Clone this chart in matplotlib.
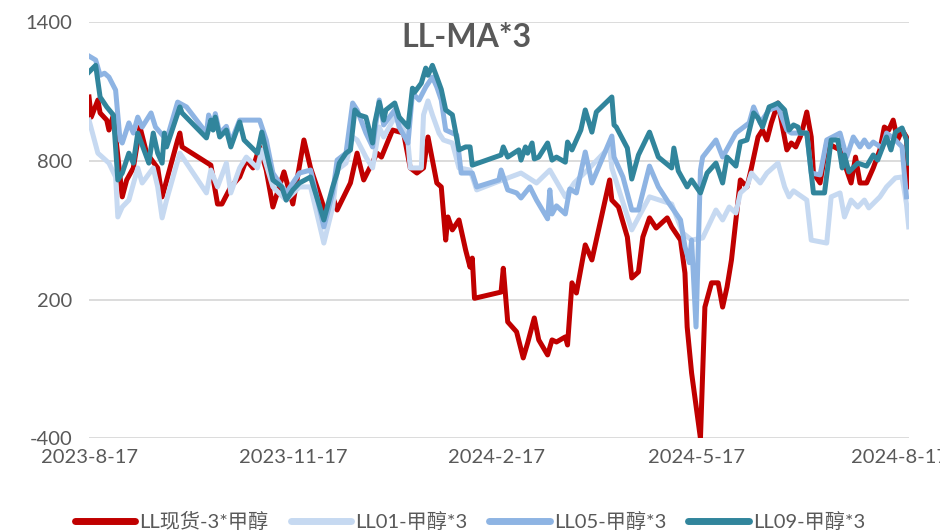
import numpy as np
import pandas as pd
import matplotlib
matplotlib.use("Agg")
import matplotlib.pyplot as plt
import matplotlib.dates as mdates

plt.rcParams['font.family'] = ['Lato', 'Noto Sans CJK SC', 'DejaVu Sans']
plt.rcParams['axes.unicode_minus'] = False

# x values are day offsets from 2023-8-17
start = pd.Timestamp('2023-08-17')

spot_days = [0, 1, 4, 5, 8, 9, 11, 15, 17, 20, 23, 26, 31, 33, 40, 41, 42, 55, 58, 60,
             64, 68, 71, 74, 77, 80, 83, 88, 92, 97, 100, 107, 110, 112, 118, 121, 124,
             130, 132, 137, 142, 145, 148, 151, 153, 157, 159, 161, 162, 164, 167, 170,
             172, 173, 174, 186, 187, 189, 193, 196, 198, 201, 203, 207, 209, 211, 215,
             216, 218, 220, 224, 227, 235, 236, 239, 243, 245, 248, 250, 253, 256, 261,
             263, 267, 269, 270, 272, 276, 278, 281, 284, 286, 288, 290, 292, 294, 297,
             299, 302, 304, 306, 308, 311, 315, 317, 319, 321, 322, 324, 326, 327, 330,
             333, 339, 342, 344, 346, 348, 351, 354, 357, 359, 361, 363, 365, 367, 369, 370]
spot_vals = [1077, 990, 1064, 1008, 977, 934, 999, 645, 718, 770, 947, 834, 770, 645, 891,
             921, 861, 782, 614, 614, 688, 731, 804, 770, 861, 761, 601, 753, 614, 891, 770,
             571, 645, 588, 705, 834, 718, 834, 817, 934, 921, 770, 748, 770, 904, 705, 688,
             458, 558, 502, 545, 415, 341, 380, 206, 233, 336, 104, 61, -52, 13, 121, 26,
             -39, 26, 17, 39, 4, 273, 229, 437, 372, 718, 631, 601, 471, 294, 320, 471, 554,
             510, 554, 515, 458, 315, 82, -117, -400, 168, 273, 273, 168, 255, 372, 545, 718,
             688, 770, 904, 934, 891, 965, 1051, 848, 878, 861, 904, 934, 1012, 904, 748,
             705, 878, 848, 761, 705, 817, 705, 705, 770, 848, 947, 934, 977, 891, 934, 904,
             688]

ll01_days = [0, 4, 6, 9, 12, 13, 15, 18, 22, 24, 29, 31, 33, 35, 41, 53, 55, 58, 62, 64,
             68, 71, 76, 78, 83, 89, 95, 100, 106, 110, 112, 116, 119, 121, 125, 128, 131,
             133, 138, 142, 144, 145, 150, 151, 153, 155, 158, 160, 164, 167, 172, 175, 183,
             195, 202, 208, 215, 219, 225, 235, 236, 245, 253, 263, 268, 272, 277, 283, 286,
             289, 292, 294, 297, 299, 303, 306, 311, 314, 316, 318, 324, 326, 333, 335, 339,
             341, 344, 347, 350, 352, 357, 360, 364, 367, 369, 370]
ll01_vals = [977, 834, 817, 791, 731, 558, 601, 631, 770, 705, 770, 688, 554, 631, 834, 662,
             761, 688, 791, 662, 770, 817, 770, 848, 688, 631, 688, 688, 445, 601, 761, 791,
             904, 891, 817, 770, 947, 904, 990, 934, 878, 770, 770, 1000, 1060, 1000, 920,
             891, 878, 770, 761, 675, 705, 748, 705, 761, 645, 705, 761, 861, 770, 502, 645,
             614, 489, 458, 467, 588, 545, 601, 575, 662, 688, 748, 705, 748, 791, 688, 645,
             671, 631, 458, 445, 645, 662, 558, 631, 601, 631, 597, 645, 688, 727, 731, 614,
             515]

ll05_days = [0, 3, 5, 7, 9, 12, 14, 15, 18, 20, 22, 24, 28, 30, 32, 35, 40, 44, 53, 54,
             56, 57, 59, 62, 64, 68, 77, 80, 83, 89, 95, 100, 106, 110, 112, 116, 119, 121,
             125, 128, 131, 133, 138, 140, 144, 146, 149, 152, 155, 157, 159, 161, 166, 168,
             173, 175, 185, 186, 189, 193, 195, 199, 202, 207, 208, 209, 211, 215, 217, 220,
             224, 227, 236, 237, 241, 245, 248, 253, 257, 262, 267, 269, 271, 272, 274, 276,
             277, 283, 286, 292, 298, 300, 303, 307, 311, 315, 317, 324, 326, 330, 333, 339,
             342, 345, 348, 350, 352, 354, 358, 360, 364, 367, 368, 369]
ll05_vals = [1254, 1237, 1171, 1180, 1163, 1107, 891, 878, 965, 921, 990, 947, 1008, 947,
             925, 891, 1055, 1034, 921, 999, 950, 1005, 920, 950, 880, 977, 977, 891, 748,
             662, 748, 761, 515, 662, 804, 834, 1051, 1021, 921, 861, 1064, 956, 1021, 947,
             878, 1094, 1064, 1120, 1163, 1120, 1064, 934, 912, 748, 748, 688, 718, 761, 675,
             662, 640, 688, 631, 550, 675, 571, 606, 571, 679, 662, 839, 705, 908, 817, 731,
             588, 588, 778, 688, 614, 545, 430, 360, 458, 82, 761, 817, 891, 817, 921, 965,
             1034, 965, 1021, 1034, 934, 921, 921, 748, 740, 891, 921, 817, 904, 861, 891,
             861, 882, 856, 921, 891, 861, 748, 645]

ll09_days = [0, 3, 5, 8, 11, 13, 15, 18, 20, 22, 27, 29, 31, 33, 34, 35, 41, 42, 53, 55,
             56, 57, 59, 62, 64, 68, 70, 76, 78, 83, 87, 89, 92, 95, 100, 106, 110, 112, 113,
             116, 118, 120, 122, 125, 128, 129, 131, 133, 134, 138, 140, 144, 146, 147, 150,
             152, 153, 155, 157, 159, 161, 164, 167, 170, 172, 173, 186, 187, 189, 194, 195,
             197, 198, 200, 201, 203, 207, 209, 211, 215, 216, 218, 222, 224, 227, 229, 236,
             237, 238, 243, 245, 248, 253, 257, 263, 264, 266, 270, 272, 276, 279, 283, 286,
             288, 292, 294, 297, 300, 302, 304, 307, 309, 311, 314, 316, 318, 320, 321, 324,
             327, 332, 335, 338, 340, 341, 343, 347, 351, 354, 356, 360, 362, 364, 367, 369,
             370]
ll09_vals = [1185, 1214, 1077, 1034, 999, 718, 748, 834, 791, 921, 791, 921, 834, 791, 921,
             861, 1034, 1008, 900, 977, 934, 990, 904, 934, 861, 969, 891, 834, 925, 718,
             688, 631, 675, 705, 731, 545, 688, 748, 791, 834, 848, 1021, 999, 990, 878, 965,
             1055, 977, 1021, 1051, 990, 947, 1115, 1098, 1137, 1202, 1171, 1214, 1163, 1110,
             1021, 1000, 848, 861, 861, 782, 826, 861, 817, 848, 804, 861, 834, 878, 809, 817,
             878, 804, 817, 795, 882, 848, 934, 1021, 925, 1012, 1077, 956, 947, 856, 722,
             826, 925, 817, 770, 856, 757, 688, 718, 662, 748, 791, 705, 817, 778, 882, 891,
             1008, 986, 947, 1034, 1042, 1051, 1021, 934, 956, 947, 921, 921, 662, 662, 891,
             891, 770, 826, 753, 791, 778, 826, 804, 904, 848, 925, 943, 891, 791]

series = [
    ('LL现货-3*甲醇', spot_days, spot_vals, '#C00000'),
    ('LL01-甲醇*3', ll01_days, ll01_vals, '#C6D9F1'),
    ('LL05-甲醇*3', ll05_days, ll05_vals, '#8EB4E3'),
    ('LL09-甲醇*3', ll09_days, ll09_vals, '#31859C'),
]

tick_dates = ['2023-8-17', '2023-11-17', '2024-2-17', '2024-5-17', '2024-8-17']
y_ticks = [-400, 200, 800, 1400]

fig = plt.figure(figsize=(9.4, 5.32), dpi=100)
ax = fig.add_axes([0.0947, 0.176, 0.872, 0.782])

for name, d, v, c in series:
    x = start + pd.to_timedelta(d, unit='D')
    ax.plot(x, v, color=c, lw=3.6, label=name, solid_joinstyle='round')

ax.set_ylim(-400, 1400)
ax.set_yticks(y_ticks)
ax.set_xlim(start, start + pd.Timedelta(days=370))
ax.set_xticks([pd.Timestamp(t) for t in tick_dates])
ax.set_xticklabels(tick_dates)
ax.grid(axis='y', color='#D9D9D9', lw=1.3)
ax.set_axisbelow(True)
for s in ax.spines.values():
    s.set_visible(False)
ax.tick_params(length=0, labelsize=14.5, labelcolor='#595959', pad=8)
ax.tick_params(axis='y', pad=12)

fig.text(0.496, 0.93, 'LL-MA*3', ha='center', va='center', fontsize=23,
         fontweight='bold', color='#595959')

leg = fig.legend(loc='center', bbox_to_anchor=(0.5, 0.02), ncol=4, frameon=False,
                 fontsize=14.5, handlelength=3.0, handletextpad=0.2, columnspacing=1.1,
                 labelcolor='#595959')
for h in leg.get_lines():
    h.set_linewidth(5)
    h.set_solid_capstyle('round')

fig.savefig('out.png', dpi=100)
